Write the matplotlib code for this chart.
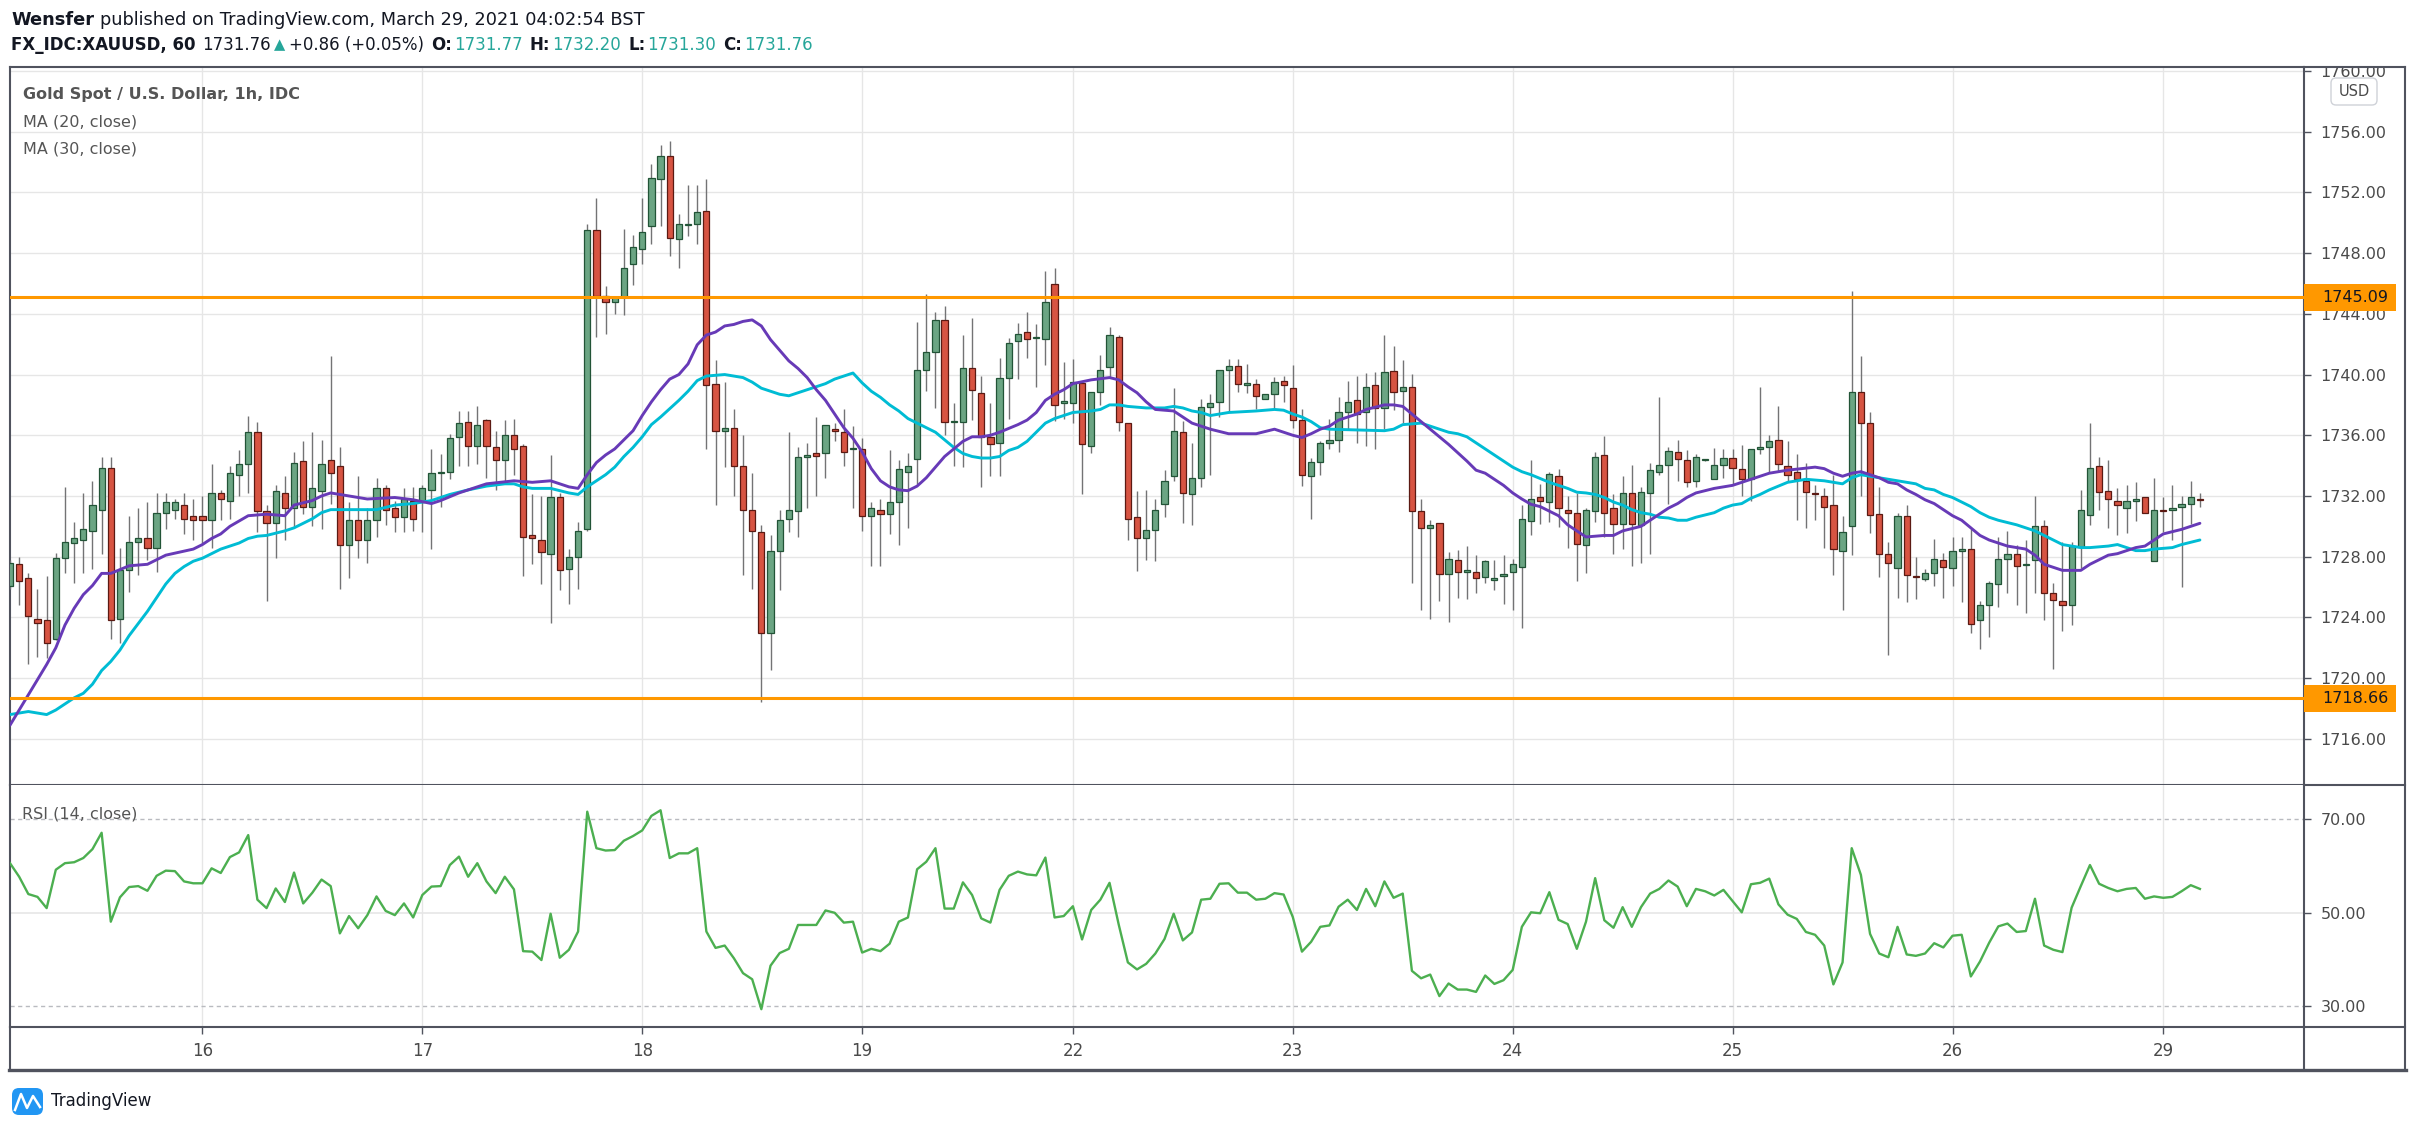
import matplotlib
matplotlib.use("Agg")
import matplotlib.pyplot as plt
import numpy as np
from matplotlib.patches import Rectangle, FancyBboxPatch
from matplotlib.lines import Line2D
from matplotlib.transforms import blended_transform_factory

W, H, DPI = 2415, 1128, 100
FONT = "DejaVu Sans"

# ---------------- data (hourly bars) ----------------
opens = [
1726.1, 1727.5, 1726.6, 1723.9, 1723.8, 1722.6, 1727.9, 1728.9, 1729.1, 1729.7,
1731.1, 1733.85, 1723.9, 1727.1, 1729.0, 1729.25, 1728.6, 1730.9, 1731.05, 1731.4,
1730.7, 1730.7, 1730.4, 1732.2, 1731.7, 1733.4, 1734.1, 1736.2, 1731.0, 1730.2,
1732.2, 1731.2, 1734.3, 1731.3, 1732.3, 1734.4, 1734.0, 1728.8, 1730.4, 1729.1,
1730.4, 1732.5, 1731.2, 1730.6, 1731.7, 1731.6, 1732.4, 1733.5, 1733.6, 1735.9,
1736.9, 1735.3, 1737.0, 1735.2, 1734.4, 1736.0, 1735.3, 1729.4, 1729.1, 1728.2,
1731.9, 1727.2, 1727.95, 1729.8, 1749.5, 1745.2, 1744.8, 1745.1, 1747.3, 1748.3,
1749.8, 1752.9, 1754.4, 1748.9, 1749.85, 1749.9, 1750.8, 1739.4, 1736.3, 1736.5,
1733.95, 1731.1, 1729.6, 1723.0, 1728.4, 1730.5, 1731.0, 1734.6, 1734.8, 1734.8,
1736.4, 1736.2, 1735.1, 1735.1, 1730.7, 1731.1, 1730.8, 1731.6, 1733.6, 1734.45,
1740.3, 1741.5, 1743.6, 1736.85, 1736.9, 1740.4, 1738.8, 1735.9, 1735.5, 1739.8,
1742.2, 1742.8, 1742.4, 1742.35, 1745.95, 1738.1, 1738.1, 1739.45, 1735.3, 1738.85,
1740.5, 1742.5, 1736.8, 1730.6, 1729.2, 1729.75, 1731.5, 1733.3, 1736.2, 1732.1,
1733.2, 1737.85, 1738.2, 1740.3, 1740.55, 1739.3, 1739.4, 1738.4, 1738.7, 1739.55,
1739.1, 1737.0, 1733.3, 1734.25, 1735.5, 1735.66, 1737.5, 1738.3, 1737.5, 1739.3,
1737.8, 1740.25, 1738.9, 1739.2, 1731.0, 1729.9, 1730.25, 1726.85, 1727.75, 1727.0,
1727.0, 1726.65, 1726.45, 1726.7, 1727.0, 1727.35, 1730.35, 1731.95, 1731.6, 1733.3,
1731.1, 1730.9, 1728.8, 1731.0, 1734.7, 1731.2, 1730.15, 1732.2, 1730.1, 1732.2,
1733.6, 1734.06, 1734.9, 1734.4, 1733.0, 1734.35, 1733.1, 1734.05, 1734.5, 1733.8,
1733.15, 1735.1, 1735.25, 1735.7, 1734.0, 1733.6, 1733.0, 1732.15, 1732.0, 1731.4,
1728.35, 1730.05, 1738.85, 1736.8, 1730.8, 1728.15, 1727.25, 1730.7, 1726.7, 1726.5,
1726.9, 1727.75, 1727.25, 1728.4, 1728.5, 1723.8, 1724.8, 1726.2, 1727.85, 1728.2,
1727.45, 1727.75, 1730.05, 1725.6, 1725.1, 1724.8, 1728.65, 1730.75, 1733.95, 1732.3,
1731.7, 1731.2, 1731.65, 1731.9, 1727.7, 1731.05, 1731.05, 1731.3, 1731.5, 1731.77,
]
highs = [
1727.8, 1728.0, 1726.9, 1725.9, 1726.7, 1728.25, 1732.6, 1730.3, 1732.2, 1733.0,
1734.6, 1734.6, 1728.6, 1730.7, 1731.2, 1731.6, 1732.2, 1732.2, 1731.8, 1732.2,
1731.8, 1732.0, 1734.1, 1732.4, 1734.0, 1735.0, 1737.3, 1736.9, 1731.4, 1732.7,
1733.3, 1734.9, 1735.6, 1736.2, 1735.7, 1741.2, 1735.2, 1731.6, 1733.3, 1731.2,
1733.2, 1732.7, 1731.7, 1732.5, 1732.6, 1732.7, 1735.1, 1734.75, 1736.1, 1737.6,
1737.6, 1737.9, 1737.1, 1736.3, 1737.0, 1737.1, 1735.4, 1732.1, 1732.0, 1734.7,
1732.2, 1728.5, 1730.3, 1749.9, 1751.65, 1745.8, 1745.1, 1749.6, 1749.2, 1751.65,
1753.9, 1755.1, 1755.4, 1750.6, 1752.5, 1752.5, 1752.85, 1740.97, 1739.5, 1737.7,
1736.0, 1733.5, 1730.1, 1729.4, 1731.1, 1736.2, 1735.2, 1735.5, 1737.2, 1736.7,
1736.8, 1737.7, 1736.6, 1735.8, 1731.6, 1731.8, 1735.0, 1734.4, 1734.8, 1743.45,
1745.3, 1744.1, 1744.5, 1738.1, 1742.6, 1743.7, 1739.9, 1738.1, 1741.1, 1742.4,
1743.4, 1744.1, 1743.3, 1746.8, 1747.0, 1740.8, 1741.0, 1739.5, 1738.85, 1741.3,
1743.1, 1742.6, 1736.8, 1732.3, 1732.4, 1731.8, 1733.7, 1739.1, 1736.95, 1735.5,
1738.4, 1738.75, 1740.3, 1741.0, 1741.05, 1740.7, 1739.7, 1738.7, 1739.85, 1739.9,
1740.6, 1737.7, 1734.5, 1735.65, 1737.1, 1738.5, 1739.6, 1739.9, 1740.1, 1740.15,
1742.6, 1741.9, 1740.95, 1740.06, 1731.8, 1730.4, 1730.25, 1728.3, 1728.45, 1728.7,
1728.1, 1727.75, 1727.75, 1728.1, 1727.85, 1731.4, 1734.4, 1732.8, 1733.6, 1733.8,
1732.0, 1732.2, 1731.2, 1734.9, 1735.95, 1732.1, 1733.3, 1734.05, 1732.6, 1734.15,
1738.5, 1735.2, 1735.7, 1735.05, 1734.75, 1734.4, 1735.15, 1735.1, 1735.1, 1735.35,
1735.1, 1739.2, 1736.0, 1737.9, 1735.6, 1734.75, 1734.15, 1732.7, 1732.5, 1733.4,
1730.7, 1745.5, 1741.2, 1737.55, 1732.6, 1728.95, 1730.9, 1731.4, 1728.0, 1727.2,
1729.15, 1728.25, 1729.3, 1729.3, 1729.8, 1725.1, 1726.4, 1729.3, 1729.7, 1728.75,
1729.1, 1732.0, 1730.45, 1726.3, 1728.95, 1728.95, 1732.4, 1736.8, 1734.6, 1734.35,
1732.5, 1732.7, 1732.9, 1731.9, 1733.2, 1731.9, 1732.7, 1732.0, 1733.0, 1732.20,
]
lows = [
1725.9, 1724.8, 1720.9, 1721.4, 1721.3, 1722.5, 1726.9, 1726.3, 1726.9, 1727.2,
1728.2, 1722.6, 1722.3, 1725.7, 1726.8, 1727.8, 1727.0, 1729.8, 1730.5, 1729.5,
1729.1, 1728.9, 1728.6, 1730.4, 1730.5, 1732.0, 1732.2, 1729.6, 1725.1, 1727.9,
1729.1, 1729.9, 1730.8, 1730.0, 1729.8, 1731.5, 1725.9, 1726.6, 1727.9, 1727.6,
1729.3, 1730.1, 1729.6, 1729.6, 1729.7, 1729.6, 1728.5, 1731.3, 1733.1, 1734.0,
1734.0, 1734.1, 1733.2, 1732.4, 1732.9, 1733.4, 1726.7, 1727.5, 1726.2, 1723.6,
1725.8, 1724.9, 1725.9, 1729.7, 1742.5, 1742.7, 1744.0, 1743.9, 1745.9, 1747.3,
1748.6, 1749.8, 1747.8, 1747.05, 1749.1, 1748.6, 1735.1, 1731.4, 1733.9, 1732.0,
1726.8, 1725.9, 1718.4, 1720.55, 1725.8, 1729.6, 1729.3, 1731.2, 1732.0, 1733.2,
1735.6, 1734.0, 1731.2, 1729.7, 1727.4, 1727.4, 1729.5, 1728.8, 1729.9, 1732.8,
1738.9, 1737.8, 1736.0, 1734.0, 1733.9, 1737.0, 1732.6, 1733.3, 1733.3, 1737.1,
1739.7, 1741.1, 1739.2, 1740.65, 1736.97, 1737.1, 1736.8, 1732.1, 1734.8, 1738.0,
1739.85, 1736.3, 1729.1, 1727.05, 1727.8, 1727.7, 1730.6, 1733.0, 1730.2, 1730.1,
1732.6, 1733.4, 1737.2, 1737.6, 1738.85, 1738.8, 1737.7, 1738.4, 1737.8, 1738.2,
1736.5, 1732.65, 1730.5, 1733.35, 1735.1, 1734.9, 1736.4, 1735.5, 1735.3, 1735.1,
1736.4, 1737.65, 1736.8, 1726.3, 1724.5, 1723.9, 1725.1, 1723.7, 1725.3, 1725.2,
1725.6, 1726.3, 1725.8, 1724.9, 1724.5, 1723.3, 1729.4, 1730.15, 1730.3, 1729.95,
1728.55, 1726.4, 1726.9, 1730.3, 1729.3, 1728.2, 1728.5, 1727.4, 1727.6, 1728.2,
1733.35, 1731.5, 1733.0, 1732.6, 1732.6, 1734.3, 1733.1, 1733.2, 1732.8, 1732.0,
1731.65, 1734.75, 1733.6, 1733.6, 1732.9, 1730.4, 1729.9, 1730.45, 1728.55, 1726.8,
1724.5, 1728.1, 1732.0, 1729.55, 1726.65, 1721.5, 1725.3, 1725.0, 1725.2, 1726.4,
1726.1, 1725.3, 1726.1, 1725.0, 1722.95, 1721.95, 1722.7, 1724.7, 1725.6, 1724.8,
1724.3, 1725.6, 1723.85, 1720.6, 1723.1, 1723.5, 1727.25, 1730.1, 1731.05, 1729.9,
1729.4, 1729.55, 1730.35, 1730.9, 1727.7, 1729.6, 1729.1, 1726.0, 1730.15, 1731.30,
]
closes = [
1727.6, 1726.4, 1724.1, 1723.65, 1722.3, 1727.9, 1729.0, 1729.2, 1729.8, 1731.4,
1733.85, 1723.8, 1727.1, 1729.0, 1729.25, 1728.6, 1730.9, 1731.6, 1731.6, 1730.5,
1730.4, 1730.4, 1732.2, 1731.8, 1733.5, 1734.1, 1736.2, 1731.0, 1730.2, 1732.3,
1731.2, 1734.2, 1731.3, 1732.5, 1734.1, 1733.5, 1728.8, 1730.4, 1729.1, 1730.4,
1732.5, 1731.1, 1730.6, 1731.8, 1730.5, 1732.5, 1733.5, 1733.6, 1735.8, 1736.8,
1735.3, 1736.7, 1735.3, 1734.4, 1736.0, 1735.1, 1729.3, 1729.2, 1728.3, 1731.9,
1727.1, 1727.95, 1729.7, 1749.5, 1745.2, 1744.8, 1745.1, 1747.05, 1748.4, 1749.4,
1752.98, 1754.4, 1749.0, 1749.95, 1749.9, 1750.7, 1739.3, 1736.3, 1736.5, 1734.0,
1731.1, 1729.7, 1723.0, 1728.4, 1730.4, 1731.1, 1734.6, 1734.7, 1734.65, 1736.7,
1736.3, 1734.9, 1735.15, 1730.7, 1731.2, 1730.8, 1731.6, 1733.8, 1734.0, 1740.3,
1741.5, 1743.6, 1736.9, 1736.9, 1740.45, 1739.0, 1735.9, 1735.4, 1739.8, 1742.1,
1742.7, 1742.35, 1742.45, 1744.8, 1737.97, 1738.25, 1739.5, 1735.4, 1738.85, 1740.3,
1742.6, 1736.9, 1730.5, 1729.2, 1729.75, 1731.05, 1733.0, 1736.3, 1732.2, 1733.2,
1737.85, 1738.15, 1740.3, 1740.55, 1739.4, 1739.45, 1738.6, 1738.7, 1739.5, 1739.3,
1737.0, 1733.4, 1734.25, 1735.5, 1735.7, 1737.5, 1738.2, 1737.4, 1739.2, 1737.8,
1740.15, 1738.85, 1739.2, 1731.0, 1729.9, 1730.1, 1726.85, 1727.85, 1727.0, 1727.1,
1726.6, 1727.7, 1726.6, 1726.85, 1727.5, 1730.5, 1731.8, 1731.7, 1733.45, 1731.2,
1730.9, 1728.85, 1731.05, 1734.6, 1730.9, 1730.15, 1732.2, 1730.15, 1732.25, 1733.7,
1734.06, 1734.96, 1734.45, 1732.9, 1734.6, 1734.37, 1734.05, 1734.5, 1733.85, 1733.1,
1735.1, 1735.25, 1735.6, 1734.1, 1733.4, 1733.1, 1732.25, 1732.1, 1731.3, 1728.5,
1729.6, 1738.85, 1736.8, 1730.75, 1728.15, 1727.6, 1730.7, 1726.8, 1726.65, 1726.95,
1727.85, 1727.35, 1728.35, 1728.5, 1723.55, 1724.8, 1726.3, 1727.85, 1728.2, 1727.4,
1727.5, 1730.0, 1725.6, 1725.15, 1724.8, 1728.7, 1731.05, 1733.85, 1732.25, 1731.8,
1731.4, 1731.65, 1731.8, 1730.9, 1731.05, 1731.0, 1731.2, 1731.5, 1731.95, 1731.76,
]

# MA(20, close) and MA(30, close) (bar index, value)
ma20_idx = [0, 2, 4, 5, 6, 7, 8, 9, 10, 11, 13, 15, 17, 20, 21, 22, 23, 24, 26, 28, 30, 31, 33, 34, 35,
            37, 39, 42, 44, 46, 47, 49, 50, 52, 55, 57, 59, 61, 62, 63, 64, 65, 66, 67, 68, 69, 70,
            71, 72, 73, 74, 75, 76, 77, 78, 79, 80, 81, 82, 83, 84, 85, 86, 87, 88, 89, 90, 91, 92,
            93, 94, 95, 96, 97, 98, 99, 100, 101, 102, 103, 104, 105, 106, 107, 108, 110, 111, 112,
            113, 114, 115, 116, 118, 120, 121, 122, 123, 124, 125, 127, 128, 129, 131, 133, 136, 138,
            140, 141, 142, 143, 144, 145, 147, 148, 150, 151, 152, 153, 154, 155, 156, 157, 158, 159,
            160, 161, 162, 163, 164, 165, 166, 167, 168, 169, 170, 171, 172, 174, 175, 176, 178, 179,
            180, 181, 182, 183, 184, 186, 188, 190, 192, 194, 197, 198, 199, 200, 201, 202, 203, 204,
            205, 206, 207, 208, 209, 210, 211, 212, 213, 214, 215, 216, 217, 218, 219, 220, 221, 222,
            223, 224, 226, 227, 228, 229, 230, 231, 232, 233, 234, 235, 236, 237, 238, 239]
ma20_val = [1716.9, 1718.9, 1720.9, 1722.0, 1723.5, 1724.6, 1725.5, 1726.1, 1726.9, 1726.9, 1727.4, 1727.5,
            1728.1, 1728.5, 1728.8, 1729.2, 1729.5, 1730.0, 1730.7, 1730.8, 1730.7, 1731.4, 1731.7, 1732.0,
            1732.2, 1732.0, 1731.8, 1731.9, 1731.75, 1731.5, 1731.7, 1732.2, 1732.4, 1732.8, 1733.0, 1732.9,
            1733.0, 1732.6, 1732.5, 1733.4, 1734.2, 1734.7, 1735.1, 1735.7, 1736.3, 1737.3, 1738.2, 1739.0,
            1739.7, 1740.0, 1740.7, 1741.96, 1742.6, 1742.8, 1743.2, 1743.3, 1743.5, 1743.6, 1743.2, 1742.3,
            1741.6, 1740.9, 1740.4, 1739.8, 1739.0, 1738.3, 1737.4, 1736.5, 1735.8, 1734.9, 1733.8, 1733.0,
            1732.6, 1732.4, 1732.35, 1732.65, 1733.2, 1733.9, 1734.6, 1735.1, 1735.6, 1735.9, 1735.9, 1736.0,
            1736.2, 1736.7, 1737.0, 1737.5, 1738.3, 1738.7, 1739.0, 1739.4, 1739.65, 1739.8, 1739.65, 1739.2,
            1738.8, 1738.2, 1737.7, 1737.6, 1737.2, 1736.8, 1736.4, 1736.1, 1736.1, 1736.4, 1736.0, 1735.85,
            1736.1, 1736.4, 1736.6, 1737.0, 1737.4, 1737.7, 1738.0, 1738.0, 1737.9, 1737.4, 1736.9, 1736.4,
            1735.9, 1735.4, 1734.85, 1734.3, 1733.7, 1733.5, 1733.1, 1732.7, 1732.2, 1731.8, 1731.45, 1731.3,
            1731.0, 1730.7, 1730.1, 1729.7, 1729.3, 1729.4, 1729.4, 1729.7, 1730.0, 1730.4, 1730.8, 1731.2,
            1731.5, 1731.9, 1732.2, 1732.5, 1732.7, 1733.1, 1733.5, 1733.7, 1733.9, 1733.8, 1733.5, 1733.3,
            1733.5, 1733.6, 1733.4, 1733.2, 1732.9, 1732.8, 1732.4, 1732.1, 1731.75, 1731.5, 1731.1, 1730.7,
            1730.4, 1729.9, 1729.4, 1729.1, 1728.9, 1728.7, 1728.6, 1728.5, 1728.1, 1727.5, 1727.3, 1727.1,
            1727.1, 1727.5, 1727.8, 1728.1, 1728.2, 1728.4, 1728.6, 1728.7, 1729.1, 1729.5, 1729.65, 1729.8,
            1730.0, 1730.2]
ma30_idx = [0, 2, 4, 5, 6, 7, 8, 9, 10, 11, 12, 13, 14, 15, 16, 17, 18, 19, 20, 21, 22, 23, 24, 25, 26,
            27, 28, 29, 30, 31, 32, 33, 34, 35, 37, 40, 42, 44, 46, 48, 50, 52, 54, 55, 56, 57, 59, 61,
            62, 63, 64, 65, 66, 67, 68, 69, 70, 71, 72, 73, 74, 75, 76, 77, 78, 79, 80, 81, 82, 83, 84,
            85, 86, 87, 88, 89, 90, 91, 92, 93, 94, 95, 96, 97, 98, 99, 100, 101, 102, 103, 104, 105,
            106, 107, 108, 109, 110, 111, 112, 113, 114, 115, 116, 118, 119, 120, 121, 122, 124, 126,
            127, 128, 129, 130, 131, 132, 133, 136, 138, 139, 140, 141, 142, 143, 144, 150, 151, 152,
            154, 155, 156, 157, 158, 159, 160, 161, 162, 163, 164, 165, 166, 167, 168, 169, 170, 171,
            172, 173, 174, 175, 176, 177, 178, 179, 180, 181, 182, 183, 184, 185, 186, 187, 188, 189,
            190, 191, 192, 193, 194, 195, 196, 198, 199, 200, 201, 202, 203, 204, 205, 207, 208, 209,
            210, 211, 212, 213, 214, 215, 216, 217, 218, 219, 220, 221, 222, 223, 224, 225, 226, 227,
            229, 230, 231, 232, 233, 234, 236, 237, 238, 239]
ma30_val = [1717.6, 1717.8, 1717.6, 1717.9, 1718.3, 1718.7, 1719.0, 1719.6, 1720.5, 1721.1, 1721.85, 1722.8,
            1723.6, 1724.4, 1725.3, 1726.2, 1726.9, 1727.35, 1727.7, 1727.9, 1728.2, 1728.5, 1728.7, 1728.9,
            1729.2, 1729.35, 1729.4, 1729.55, 1729.7, 1729.9, 1730.2, 1730.5, 1730.9, 1731.1, 1731.1, 1731.1,
            1731.4, 1731.5, 1731.7, 1732.1, 1732.4, 1732.65, 1732.8, 1732.8, 1732.6, 1732.5, 1732.5, 1732.2,
            1732.1, 1732.6, 1733.0, 1733.4, 1733.9, 1734.6, 1735.2, 1735.9, 1736.7, 1737.2, 1737.75, 1738.3,
            1738.9, 1739.6, 1739.9, 1739.95, 1740.0, 1739.9, 1739.8, 1739.5, 1739.1, 1738.9, 1738.7, 1738.6,
            1738.8, 1739.0, 1739.2, 1739.4, 1739.7, 1739.9, 1740.1, 1739.45, 1738.9, 1738.5, 1738.0, 1737.6,
            1737.1, 1736.8, 1736.5, 1736.2, 1735.7, 1735.2, 1734.8, 1734.6, 1734.5, 1734.5, 1734.6, 1735.0,
            1735.2, 1735.6, 1736.2, 1736.8, 1737.1, 1737.3, 1737.5, 1737.6, 1737.7, 1738.0, 1738.0, 1737.9,
            1737.8, 1737.8, 1737.9, 1737.8, 1737.6, 1737.5, 1737.3, 1737.4, 1737.5, 1737.6, 1737.7, 1737.65,
            1737.4, 1737.2, 1736.9, 1736.5, 1736.4, 1736.3, 1736.4, 1736.7, 1736.8, 1736.6, 1736.4, 1736.2,
            1736.1, 1735.9, 1735.5, 1735.1, 1734.7, 1734.3, 1733.9, 1733.6, 1733.4, 1733.15, 1732.9, 1732.7,
            1732.5, 1732.25, 1732.2, 1732.1, 1731.9, 1731.6, 1731.4, 1731.1, 1730.9, 1730.8, 1730.6, 1730.55,
            1730.4, 1730.4, 1730.6, 1730.75, 1730.9, 1731.2, 1731.4, 1731.5, 1731.85, 1732.1, 1732.4, 1732.65,
            1732.9, 1733.0, 1733.1, 1733.0, 1732.9, 1732.8, 1733.2, 1733.4, 1733.3, 1733.2, 1733.1, 1732.9,
            1732.8, 1732.5, 1732.4, 1732.1, 1731.9, 1731.6, 1731.3, 1730.9, 1730.6, 1730.4, 1730.25, 1730.1,
            1729.9, 1729.7, 1729.4, 1729.1, 1728.8, 1728.7, 1728.6, 1728.6, 1728.7, 1728.8, 1728.6, 1728.4,
            1728.4, 1728.5, 1728.6, 1728.8, 1728.95, 1729.1]

rsi = [
60.6, 57.7, 54.0, 53.4, 51.0, 59.2, 60.6, 60.8, 61.7, 63.6,
67.1, 48.1, 53.3, 55.5, 55.7, 54.7, 57.9, 59.0, 58.9, 56.7,
56.3, 56.3, 59.5, 58.5, 61.9, 62.9, 66.6, 52.8, 51.0, 55.2,
52.3, 58.6, 52.0, 54.3, 57.1, 55.7, 45.6, 49.3, 46.7, 49.5,
53.5, 50.4, 49.5, 52.0, 49.0, 53.8, 55.6, 55.7, 60.2, 62.0,
57.7, 60.6, 56.7, 54.2, 57.7, 55.0, 41.8, 41.7, 39.9, 49.8,
40.4, 42.1, 46.0, 71.6, 63.8, 63.3, 63.4, 65.4, 66.4, 67.6,
70.7, 71.9, 61.7, 62.7, 62.7, 63.8, 46.0, 42.5, 43.0, 40.3,
37.1, 35.8, 29.4, 38.7, 41.4, 42.3, 47.4, 47.4, 47.4, 50.5,
50.0, 47.9, 48.1, 41.5, 42.3, 41.8, 43.4, 48.1, 49.0, 59.3,
60.9, 63.8, 50.9, 50.9, 56.5, 53.8, 48.8, 47.9, 54.9, 57.9,
58.8, 58.2, 58.0, 61.8, 49.0, 49.3, 51.4, 44.3, 50.6, 52.8,
56.4, 47.5, 39.4, 37.9, 39.1, 41.3, 44.4, 49.8, 44.1, 45.8,
52.8, 53.0, 56.2, 56.3, 54.3, 54.3, 52.8, 53.0, 54.2, 53.9,
49.1, 41.7, 43.8, 47.0, 47.3, 51.3, 52.8, 50.6, 55.1, 51.4,
56.7, 53.2, 54.1, 37.6, 36.0, 36.8, 32.2, 34.9, 33.6, 33.6,
33.1, 36.6, 34.8, 35.6, 37.8, 47.0, 50.1, 49.9, 54.4, 48.5,
47.6, 42.3, 48.1, 57.4, 48.4, 46.8, 51.2, 47.0, 51.2, 54.1,
55.1, 56.9, 55.6, 51.4, 55.1, 54.6, 53.7, 54.9, 52.5, 50.1,
56.1, 56.4, 57.3, 51.8, 49.6, 48.7, 45.9, 45.3, 43.0, 34.7,
39.4, 63.8, 58.1, 45.5, 41.3, 40.5, 47.0, 41.1, 40.8, 41.3,
43.5, 42.6, 45.1, 45.3, 36.4, 39.6, 43.6, 47.1, 47.7, 45.9,
46.1, 53.0, 43.0, 42.1, 41.6, 51.1, 55.7, 60.2, 56.2, 55.3,
54.6, 55.1, 55.3, 53.0, 53.5, 53.2, 53.4, 54.6, 55.9, 55.1,
]

day_idx = [21, 45, 69, 93, 116, 140, 164, 188, 212, 235]
day_lbl = ["16", "17", "18", "19", "22", "23", "24", "25", "26", "29"]
price_ticks = list(range(1716, 1761, 4))
rsi_ticks = [30, 50, 70]
levels = [1745.09, 1718.66]

# ---------------- styling ----------------
UP, DN = "#6BA583", "#D75442"
UP_E, DN_E = "#225437", "#5B1A13"
WICK = "#737375"
GRID = "#e6e6e6"
FRAME = "#50535e"
TXT = "#4a4a4a"
ORANGE = "#FF9800"
TEAL = "#26a69a"
INK = "#131722"

plt.rcParams["font.family"] = [FONT]

fig = plt.figure(figsize=(W / DPI, H / DPI), dpi=DPI)
fig.patch.set_facecolor("white")


def rect(x0, y0, x1, y1):
    return [x0 / W, 1 - y1 / H, (x1 - x0) / W, (y1 - y0) / H]


XL, XR = 10, 2304
ax = fig.add_axes(rect(XL, 67, XR, 785))
axr = fig.add_axes(rect(XL, 785, XR, 1027), sharex=ax)

o = np.array(opens); h = np.array(highs); l = np.array(lows); c = np.array(closes)
idx = np.arange(len(c))
up = c >= o
bot = np.minimum(o, c)
hgt = np.maximum(np.abs(c - o), 0.07)

ax.vlines(idx, l, h, color=WICK, lw=1.0, zorder=3)
ax.bar(idx[up], hgt[up], bottom=bot[up], width=0.68, color=UP, edgecolor=UP_E, lw=0.9, zorder=4)
ax.bar(idx[~up], hgt[~up], bottom=bot[~up], width=0.68, color=DN, edgecolor=DN_E, lw=0.9, zorder=4)

ax.plot(ma30_idx, ma30_val, color="#00BCD4", lw=2.1, zorder=5, solid_capstyle="round")
ax.plot(ma20_idx, ma20_val, color="#673AB7", lw=2.1, zorder=5, solid_capstyle="round")

for lv in levels:
    ax.axhline(lv, color=ORANGE, lw=2.2, zorder=6)

ax.set_xlim(0.0, 250.36)
ax.set_ylim(1712.96, 1760.26)
ax.set_yticks(price_ticks)
ax.set_yticklabels([f"{v:.2f}" for v in price_ticks])
ax.yaxis.tick_right()
ax.tick_params(axis="y", length=5, width=1, color=FRAME, pad=7, labelsize=11.5, labelcolor=TXT)
ax.tick_params(axis="x", length=0, labelbottom=False)
ax.set_xticks(day_idx)
ax.grid(True, color=GRID, lw=1, zorder=0)
ax.set_axisbelow(True)

axr.plot(idx, rsi, color="#4CAF50", lw=1.7, zorder=4)
axr.set_ylim(25.6, 77.3)
axr.set_yticks(rsi_ticks)
axr.set_yticklabels([f"{v:.2f}" for v in rsi_ticks])
axr.yaxis.tick_right()
axr.tick_params(axis="y", length=5, width=1, color=FRAME, pad=7, labelsize=11.5, labelcolor=TXT)
axr.axhline(50, color=GRID, lw=1.2, zorder=1)
for lv in (30, 70):
    axr.axhline(lv, color="#b9bbc0", lw=1.0, ls=(0, (3, 2.5)), zorder=1)
axr.set_xticks(day_idx)
axr.set_xticklabels(day_lbl)
axr.tick_params(axis="x", length=5, width=1, color=FRAME, pad=6, labelsize=12, labelcolor=TXT)
axr.grid(True, axis="x", color=GRID, lw=1, zorder=0)
axr.set_axisbelow(True)

for a in (ax, axr):
    for s in a.spines.values():
        s.set_color(FRAME)
        s.set_linewidth(1.5)
axr.spines["top"].set_visible(False)

# orange price labels on the right scale
bt = blended_transform_factory(ax.transAxes, ax.transData)
unit_px = (785 - 67) / (1760.26 - 1712.96)
box_h = 27 / unit_px
box_w = 92 / (XR - XL)
for lv in levels:
    ax.add_patch(Rectangle((1.0, lv - box_h / 2), box_w, box_h, transform=bt, facecolor=ORANGE,
                           edgecolor="none", clip_on=False, zorder=20))
    ax.text(1.0 + 18 / (XR - XL), lv, f"{lv:.2f}", transform=bt, ha="left", va="center",
            fontsize=11.5, color=INK, clip_on=False, zorder=21)

# ---------------- overlay in pixel coordinates ----------------
ov = fig.add_axes([0, 0, 1, 1], zorder=10)
ov.set_xlim(0, W)
ov.set_ylim(H, 0)
ov.axis("off")

# hide upper half of the clipped top label
ov.add_patch(Rectangle((2305, 40), 99, 27.5, facecolor="white", edgecolor="none", zorder=1))


def hline(y, x0, x1, lw=1.5):
    ov.add_line(Line2D([x0, x1], [y, y], color=FRAME, lw=lw, zorder=3))


def vline(x, y0, y1, lw=1.5):
    ov.add_line(Line2D([x, x], [y0, y1], color=FRAME, lw=lw, zorder=3))


hline(67, XR, 2405)
hline(785, XR, 2405)
hline(1027, XR, 2405)
hline(1070, XL - 1, 2406, lw=2.4)
vline(2405, 67, 1070)
vline(XL, 1027, 1070)
vline(XR, 1027, 1070)

# USD tag
ov.add_patch(FancyBboxPatch((2331, 78), 46, 27, boxstyle="round,pad=0,rounding_size=5",
                            facecolor="white", edgecolor="#cfd2d8", lw=1, zorder=4))
ov.text(2354, 92, "USD", ha="center", va="center", fontsize=10.5, color=TXT, zorder=5)

# header: pieces laid out one after another
renderer = fig.canvas.get_renderer()
px_per_unit = W / fig.bbox.width


def seq(x, y, pieces, size):
    for s, wgt, col, gap, fs in pieces:
        t = ov.text(x, y, s, fontsize=fs or size, fontweight=wgt, color=col, va="center", ha="left")
        bb = t.get_window_extent(renderer=renderer)
        x += bb.width * px_per_unit + gap


seq(11, 20, [
    ("Wensfer", "bold", INK, 6, None),
    ("published on TradingView.com, March 29, 2021 04:02:54 BST", "normal", INK, 0, None),
], 12.8)
seq(11, 45, [
    ("FX_IDC:XAUUSD, 60", "bold", INK, 7, None),
    ("1731.76", "normal", INK, 3, None),
    ("\u25B2", "normal", TEAL, 4, 10.5),
    ("+0.86 (+0.05%)", "normal", INK, 7, None),
    ("O:", "bold", INK, 2, None),
    ("1731.77", "normal", TEAL, 7, None),
    ("H:", "bold", INK, 2, None),
    ("1732.20", "normal", TEAL, 7, None),
    ("L:", "bold", INK, 2, None),
    ("1731.30", "normal", TEAL, 7, None),
    ("C:", "bold", INK, 2, None),
    ("1731.76", "normal", TEAL, 0, None),
], 12.0)

# panel legends
ov.text(23, 94, "Gold Spot / U.S. Dollar, 1h, IDC", fontsize=11.5, fontweight="bold",
        color="#555555", va="center")
ov.text(23, 122, "MA (20, close)", fontsize=11.5, color="#555555", va="center")
ov.text(23, 149, "MA (30, close)", fontsize=11.5, color="#555555", va="center")
ov.text(22, 814, "RSI (14, close)", fontsize=11.5, color="#555555", va="center")

# TradingView mark
ov.add_patch(FancyBboxPatch((12, 1088), 31, 27, boxstyle="round,pad=0,rounding_size=7",
                            facecolor="#2196F3", edgecolor="none"))
ov.add_line(Line2D([15, 21, 27, 33, 40], [1110, 1094, 1108, 1096, 1107], color="white", lw=1.8))
ov.text(51, 1101, "TradingView", fontsize=12, color=INK, va="center")

fig.savefig("out.png", dpi=DPI, facecolor="white")
